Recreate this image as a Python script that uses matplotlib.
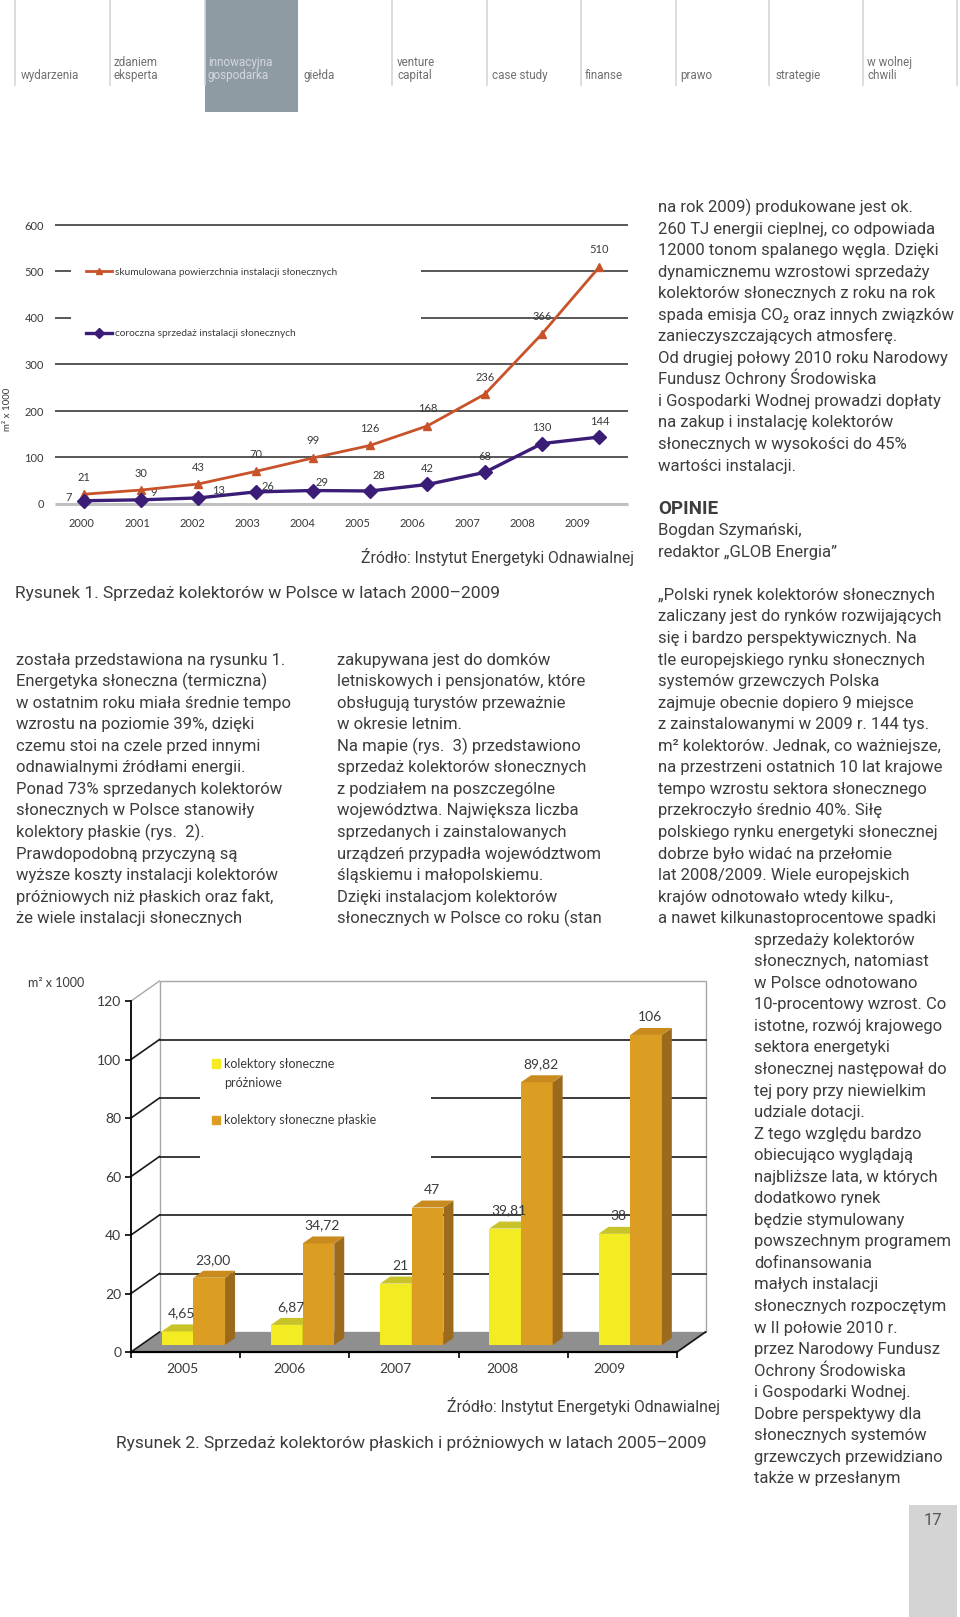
import matplotlib
matplotlib.use('Agg')
import matplotlib.pyplot as plt
import numpy as np
from matplotlib.patches import Rectangle, Polygon, Patch
from matplotlib.lines import Line2D

plt.rcParams['font.family'] = ['Roboto', 'DejaVu Sans']

W, H = 960, 1617

# --- data: chart 1 (line chart) ---
years_1 = ['2000', '2001', '2002', '2003', '2004', '2005', '2006', '2007', '2008', '2009']
cumulative_area = [21, 30, 43, 70, 99, 126, 168, 236, 366, 510]
annual_sales = [7, 9, 13, 26, 29, 28, 42, 68, 130, 144]
series_names_1 = ['skumulowana powierzchnia instalacji słonecznych',
                  'coroczna sprzedaż instalacji słonecznych']

# --- data: chart 2 (bars) ---
years_2 = ['2005', '2006', '2007', '2008', '2009']
vacuum = [4.65, 6.87, 21, 39.81, 38]
vacuum_labels = ['4,65', '6,87', '21', '39,81', '38']
flat = [23.00, 34.72, 47, 89.82, 106]
flat_labels = ['23,00', '34,72', '47', '89,82', '106']
series_names_2 = ['kolektory słoneczne', 'próżniowe', ' ', 'kolektory słoneczne płaskie']

nav_items = ['wydarzenia', 'zdaniem\neksperta', 'innowacyjna\ngospodarka', 'giełda',
             'venture\ncapital', 'case study', 'finanse', 'prawo', 'strategie',
             'w wolnej\nchwili']

col1 = ['została przedstawiona na rysunku 1.',
        'Energetyka słoneczna (termiczna)',
        'w ostatnim roku miała średnie tempo',
        'wzrostu na poziomie 39%, dzięki',
        'czemu stoi na czele przed innymi',
        'odnawialnymi źródłami energii.',
        'Ponad 73% sprzedanych kolektorów',
        'słonecznych w Polsce stanowiły',
        'kolektory płaskie (rys.  2).',
        'Prawdopodobną przyczyną są',
        'wyższe koszty instalacji kolektorów',
        'próżniowych niż płaskich oraz fakt,',
        'że wiele instalacji słonecznych']
col2 = ['zakupywana jest do domków',
        'letniskowych i pensjonatów, które',
        'obsługują turystów przeważnie',
        'w okresie letnim.',
        'Na mapie (rys.  3) przedstawiono',
        'sprzedaż kolektorów słonecznych',
        'z podziałem na poszczególne',
        'województwa. Największa liczba',
        'sprzedanych i zainstalowanych',
        'urządzeń przypadła województwom',
        'śląskiemu i małopolskiemu.',
        'Dzięki instalacjom kolektorów',
        'słonecznych w Polsce co roku (stan']
col3_top = ['na rok 2009) produkowane jest ok.',
            '260 TJ energii cieplnej, co odpowiada',
            '12000 tonom spalanego węgla. Dzięki',
            'dynamicznemu wzrostowi sprzedaży',
            'kolektorów słonecznych z roku na rok',
            'spada emisja CO₂ oraz innych związków',
            'zanieczyszczających atmosferę.',
            'Od drugiej połowy 2010 roku Narodowy',
            'Fundusz Ochrony Środowiska',
            'i Gospodarki Wodnej prowadzi dopłaty',
            'na zakup i instalację kolektorów',
            'słonecznych w wysokości do 45%',
            'wartości instalacji.']
col3_author = ['Bogdan Szymański,', 'redaktor „GLOB Energia”']
col3_quote = ['„Polski rynek kolektorów słonecznych',
              'zaliczany jest do rynków rozwijających',
              'się i bardzo perspektywicznych. Na',
              'tle europejskiego rynku słonecznych',
              'systemów grzewczych Polska',
              'zajmuje obecnie dopiero 9 miejsce',
              'z zainstalowanymi w 2009 r. 144 tys.',
              'm² kolektorów. Jednak, co ważniejsze,',
              'na przestrzeni ostatnich 10 lat krajowe',
              'tempo wzrostu sektora słonecznego',
              'przekroczyło średnio 40%. Siłę',
              'polskiego rynku energetyki słonecznej',
              'dobrze było widać na przełomie',
              'lat 2008/2009. Wiele europejskich',
              'krajów odnotowało wtedy kilku-,',
              'a nawet kilkunastoprocentowe spadki']
col3_narrow = ['sprzedaży kolektorów',
               'słonecznych, natomiast',
               'w Polsce odnotowano',
               '10-procentowy wzrost. Co',
               'istotne, rozwój krajowego',
               'sektora energetyki',
               'słonecznej następował do',
               'tej pory przy niewielkim',
               'udziale dotacji.',
               'Z tego względu bardzo',
               'obiecująco wyglądają',
               'najbliższe lata, w których',
               'dodatkowo rynek',
               'będzie stymulowany',
               'powszechnym programem',
               'dofinansowania',
               'małych instalacji',
               'słonecznych rozpoczętym',
               'w II połowie 2010 r.',
               'przez Narodowy Fundusz',
               'Ochrony Środowiska',
               'i Gospodarki Wodnej.',
               'Dobre perspektywy dla',
               'słonecznych systemów',
               'grzewczych przewidziano',
               'także w przesłanym']

CHART_FONT = ['Lato', 'DejaVu Sans']
TEXT_C = '#3d3d3d'
CHART_C = '#3a3a3a'


def fx(x):
    return x / W


def fy(y):
    return 1 - y / H


fig = plt.figure(figsize=(W / 100, H / 100), dpi=100)

# ---------------- top navigation ----------------
fig.add_artist(Rectangle((fx(205), fy(112)), 93 / W, 112 / H,
                         transform=fig.transFigure, facecolor='#8f9ba3', edgecolor='none'))
for xs in [15, 110, 205, 392, 487, 581, 676, 769, 863, 957]:
    fig.add_artist(Line2D([fx(xs), fx(xs)], [fy(0), fy(85)], color='#d6d6d6', lw=1.2))
nav_x = [21, 114, 208, 304, 397, 492, 585, 680, 775, 867]
for name, xn in zip(nav_items, nav_x):
    parts = name.split('\n')
    col = '#d3d8dc' if name.startswith('innowacyjna') else '#707070'
    for k, p in enumerate(parts):
        yb = 79 - 13 * (len(parts) - 1 - k)
        fig.text(fx(xn), fy(yb), p, fontsize=8.4, color=col, ha='left', va='baseline')

# ---------------- chart 1 ----------------
ax1 = fig.add_axes([fx(55), fy(504), (628 - 55) / W, (504 - 225) / H])
x1 = np.arange(len(years_1))
ax1.set_xlim(-0.5, 9.5)
ax1.set_ylim(0, 600)
for s in ax1.spines.values():
    s.set_visible(False)
ax1.hlines(range(100, 601, 100), -0.5, 9.5, color='#2a2a2a', lw=1.1, clip_on=False, zorder=1)
ax1.hlines(0, -0.5, 9.5, color='#c0c0c0', lw=2.2, clip_on=False, zorder=1)
ax1.add_patch(Rectangle((0.028, 0.57), 0.611, 0.376, transform=ax1.transAxes,
                        facecolor='white', edgecolor='none', zorder=2))
l_cum, = ax1.plot(x1, cumulative_area, color='#c8522a', lw=2.0, marker='^', ms=5.5,
                  zorder=4, clip_on=False)
l_ann, = ax1.plot(x1, annual_sales, color='#3b1d78', lw=2.4, marker='D', ms=7,
                  zorder=5, clip_on=False)

for xi, v in zip(x1, cumulative_area):
    ax1.annotate(str(v), (xi, v), xytext=(0, 17), textcoords='offset pixels',
                 ha='center', va='center', fontsize=8, color=CHART_C, family=CHART_FONT)
purple_offsets = [(-15, 3), (13, 7), (20, 7), (12, 5), (9, 8), (9, 15),
                  (0, 16), (0, 16), (0, 16), (0, 16)]
for xi, v, off in zip(x1, annual_sales, purple_offsets):
    ax1.annotate(str(v), (xi, v), xytext=off, textcoords='offset pixels',
                 ha='center', va='center', fontsize=8, color=CHART_C, family=CHART_FONT)

leg1 = ax1.legend([l_cum, l_ann], series_names_1, loc='upper left',
                  bbox_to_anchor=(0.054, 0.848), frameon=False, borderpad=0,
                  borderaxespad=0, handlelength=2.6, handletextpad=0.3, labelspacing=5.2,
                  prop={'family': CHART_FONT, 'size': 7.3}, markerscale=0.8)
for t in leg1.get_texts():
    t.set_color(CHART_C)

ax1.set_xticks(np.arange(len(years_1)) * 0.961 - 0.03, years_1)
ax1.set_yticks(range(0, 601, 100))
ax1.tick_params(axis='both', length=0, labelsize=8, labelcolor=CHART_C)
ax1.tick_params(axis='x', pad=10)
ax1.tick_params(axis='y', pad=8)
for lab in ax1.get_xticklabels() + ax1.get_yticklabels():
    lab.set_family(CHART_FONT)
fig.text(fx(7), fy(409), 'm² x 1000', rotation=90, ha='center', va='center',
         fontsize=7, color=CHART_C, family=CHART_FONT)

fig.text(fx(634), fy(563), 'Źródło: Instytut Energetyki Odnawialnej', ha='right',
         va='baseline', fontsize=11.3, color=TEXT_C)
fig.text(fx(15), fy(598), 'Rysunek 1. Sprzedaż kolektorów w Polsce w latach 2000–2009',
         ha='left', va='baseline', fontsize=12.5, color=TEXT_C)

# ---------------- body text ----------------
BASE0, STEP = 212, 21.55


def column(x, first, lines, **kw):
    kw.setdefault('fontsize', 12)
    for k, s in enumerate(lines):
        fig.text(fx(x), fy(BASE0 + (first + k) * STEP), s, ha='left', va='baseline',
                 color=TEXT_C, **kw)


column(15.5, 21, col1)
column(337, 21, col2)
column(658, 0, col3_top)
column(658, 14, ['OPINIE'], fontweight='bold', fontsize=13.5)
column(658, 15, col3_author)
column(658, 18, col3_quote)
column(754, 34, col3_narrow)

# ---------------- chart 2 ----------------
ax2 = fig.add_axes([fx(131), fy(1352), 546 / W, 351 / H])
ax2.set_xlim(-0.5, 4.5)
ax2.set_ylim(0, 120)
bb = ax2.get_position()
dx_u = 28.5 / (bb.width * W / 5)
dy_u = 20 / (bb.height * H / 120)

ax2.add_patch(Polygon([(-0.5, 0), (4.5, 0), (4.5 + dx_u, dy_u), (-0.5 + dx_u, dy_u)],
                      closed=True, facecolor='#8f8f8f', edgecolor='none', zorder=1,
                      clip_on=False))
ax2.add_patch(Rectangle((-0.5 + dx_u, dy_u), 5, 120, facecolor='white',
                        edgecolor='#a8a8a8', lw=1.0, zorder=0.5, clip_on=False))
for v in range(20, 101, 20):
    ax2.plot([-0.5 + dx_u, 4.5 + dx_u], [v + dy_u, v + dy_u], color='#1a1a1a', lw=1.2,
             zorder=2, clip_on=False)
for v in range(0, 101, 20):
    ax2.plot([-0.5, -0.5 + dx_u], [v, v + dy_u], color='#1a1a1a', lw=1.2, zorder=2,
             clip_on=False)
ax2.plot([-0.5, -0.5 + dx_u], [120, 120 + dy_u], color='#a8a8a8', lw=1.0, zorder=2,
         clip_on=False)
ax2.plot([4.5, 4.5 + dx_u], [0, dy_u], color='#1a1a1a', lw=1.3, zorder=2, clip_on=False)
ax2.add_patch(Rectangle((0.132, 52), 2.115, 51, facecolor='white', edgecolor='none',
                        zorder=3))

t0, t1 = 0.35, 0.70
b0, sx0 = t0 * dy_u, t0 * dx_u
ddx, ddy = (t1 - t0) * dx_u, (t1 - t0) * dy_u
bw = 0.29
xg = np.arange(len(years_2))
series_2 = [(vacuum, vacuum_labels, -0.165, ('#f3ec22', '#c9c32a', '#b3ad1c')),
            (flat, flat_labels, 0.125, ('#dc9e22', '#c98b1e', '#9c6a1c'))]
for vals, labs, off, (c_front, c_top, c_side) in series_2:
    xc = xg + off + sx0
    ax2.bar(xc, vals, width=bw, bottom=b0, color=c_front, zorder=5, clip_on=False)
    for xi, v, lab in zip(xc, vals, labs):
        xa, xb = xi - bw / 2, xi + bw / 2
        top = b0 + v
        ax2.add_patch(Polygon([(xb, b0), (xb, top), (xb + ddx, top + ddy), (xb + ddx, b0 + ddy)],
                              closed=True, facecolor=c_side, edgecolor='none', zorder=5,
                              clip_on=False))
        ax2.add_patch(Polygon([(xa, top), (xb, top), (xb + ddx, top + ddy), (xa + ddx, top + ddy)],
                              closed=True, facecolor=c_top, edgecolor='none', zorder=5,
                              clip_on=False))
        ax2.annotate(lab, (xi, top), xytext=(4, 18), textcoords='offset pixels',
                     ha='center', va='center', fontsize=10, color=CHART_C,
                     family=CHART_FONT, zorder=6)

for side in ['top', 'right']:
    ax2.spines[side].set_visible(False)
ax2.spines['left'].set_linewidth(1.3)
ax2.spines['bottom'].set_linewidth(1.6)
ax2.spines['left'].set_zorder(4)
ax2.spines['bottom'].set_zorder(4)
ax2.set_yticks(range(0, 121, 20))
ax2.set_xticks(np.arange(-0.5, 5, 1), [''] * 6)
ax2.set_xticks(xg * 0.977 - 0.03, years_2, minor=True)
ax2.tick_params(axis='y', length=4, width=1.2, pad=3, labelsize=10, labelcolor=CHART_C)
ax2.tick_params(axis='x', which='major', length=4, width=1.2)
ax2.tick_params(axis='x', which='minor', length=0, pad=8, labelsize=10, labelcolor=CHART_C)
for lab in ax2.get_yticklabels() + ax2.get_xticklabels(minor=True):
    lab.set_family(CHART_FONT)

blank = Patch(facecolor='none', edgecolor='none')
leg2 = ax2.legend([Patch(color='#f3ec22'), blank, blank, Patch(color='#dc9e22')],
                  series_names_2, loc='upper left', bbox_to_anchor=(0.148, 0.838),
                  frameon=False, borderpad=0, borderaxespad=0, handlelength=0.65,
                  handleheight=0.65, handletextpad=0.35, labelspacing=0.55,
                  prop={'family': CHART_FONT, 'size': 9})
leg2.set_zorder(7)
for t in leg2.get_texts():
    t.set_color(CHART_C)

fig.text(fx(28), fy(987), 'm² x 1000', ha='left', va='baseline', fontsize=9,
         color=CHART_C, family=CHART_FONT)
fig.text(fx(720), fy(1412), 'Źródło: Instytut Energetyki Odnawialnej', ha='right',
         va='baseline', fontsize=11.3, color=TEXT_C)
fig.text(fx(116.5), fy(1448),
         'Rysunek 2. Sprzedaż kolektorów płaskich i próżniowych w latach 2005–2009',
         ha='left', va='baseline', fontsize=12.5, color=TEXT_C)

# ---------------- page number ----------------
fig.add_artist(Rectangle((fx(909), fy(1617)), 48 / W, 112 / H, transform=fig.transFigure,
                         facecolor='#d4d4d4', edgecolor='none'))
fig.text(fx(933), fy(1520), '17', ha='center', va='center', fontsize=12, color='#555555')

fig.savefig('out.png', dpi=100)
